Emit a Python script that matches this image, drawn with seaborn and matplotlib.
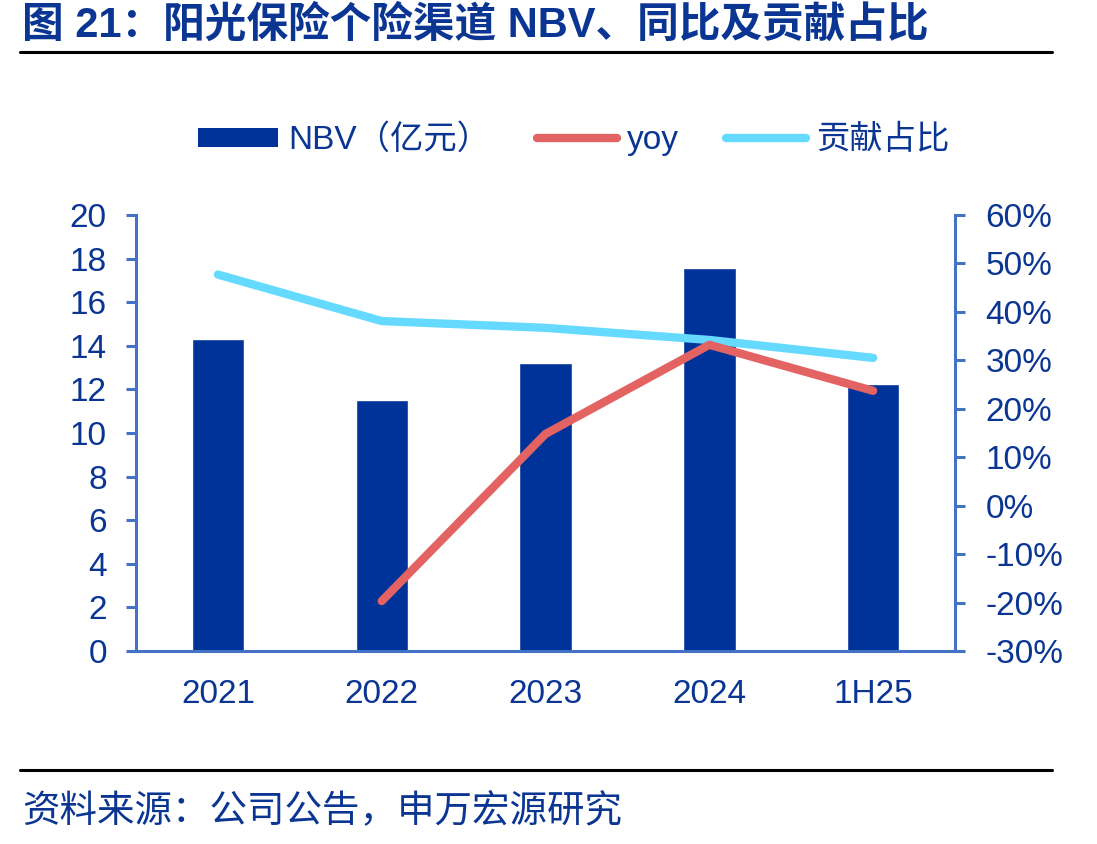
import numpy as np
import pandas as pd
import matplotlib
matplotlib.use("Agg")
import matplotlib.pyplot as plt
import seaborn as sns
from matplotlib.lines import Line2D
from matplotlib.patches import Patch
from matplotlib.ticker import FixedLocator, FuncFormatter

# ── Data ─────────────────────────────────────────────────────────────────────
periods = ["2021", "2022", "2023", "2024", "1H25"]
nbv     = [14.3, 11.5, 13.2, 17.55, 12.25]          # 亿元
yoy     = [np.nan, -19.7, 14.8, 33.2, 23.7]         # %
share   = [47.7, 38.1, 36.7, 34.2, 30.5]            # %

df = pd.DataFrame({"period": periods, "nbv": nbv, "yoy": yoy, "share": share})

# ── Style ────────────────────────────────────────────────────────────────────
sns.set_style("white")
plt.rcParams["font.family"] = ["Liberation Sans", "Noto Sans CJK SC", "DejaVu Sans"]

NAVY  = "#003399"
TEXT  = "#0A3592"
AXIS  = "#4472C4"
RED   = "#E36262"
CYAN  = "#66D9FF"
FS    = 24

fig = plt.figure(figsize=(10.97, 8.44), dpi=100)
ax = fig.add_axes([0.124, 0.2287, 0.7466, 0.5166])

sns.barplot(data=df, x="period", y="nbv", color=NAVY, width=0.32,
            saturation=1, ax=ax)
ax.set_xlim(-0.5, 4.5)
ax.set_ylim(0, 20)
ax.set_yticks(np.arange(0, 21, 2))
ax.set_xlabel("")
ax.set_ylabel("")

ax2 = ax.twinx()
x = np.arange(len(periods))
ax2.plot(x, df["share"], color=CYAN, lw=6, solid_capstyle="round",
         solid_joinstyle="round")
ax2.plot(x, df["yoy"], color=RED, lw=6, solid_capstyle="round",
         solid_joinstyle="round")
ax2.set_ylim(-30, 60)
ax2.set_yticks(np.arange(-30, 61, 10))
ax2.yaxis.set_major_formatter(FuncFormatter(lambda v, p: f"{v:.0f}%"))

for a in (ax, ax2):
    for s in a.spines.values():
        s.set_visible(False)
ax.spines["left"].set_visible(True)
ax.spines["bottom"].set_visible(True)
ax2.spines["right"].set_visible(True)
for s in (ax.spines["left"], ax.spines["bottom"], ax2.spines["right"]):
    s.set_color(AXIS)
    s.set_linewidth(2.2)

ax.tick_params(axis="y", colors=AXIS, labelcolor=TEXT, labelsize=FS,
               length=7, width=2.2, direction="out", pad=14)
ax2.tick_params(axis="y", colors=AXIS, labelcolor=TEXT, labelsize=FS,
                length=7, width=2.2, direction="out", pad=15)
ax.tick_params(axis="x", which="major", length=0, labelcolor=TEXT,
               labelsize=FS, pad=20)
ax.xaxis.set_minor_locator(FixedLocator(np.arange(-0.5, 4.6, 1)))
ax.tick_params(axis="x", which="minor", length=7, width=2.2, colors=AXIS,
               direction="out")

# ── Legend ───────────────────────────────────────────────────────────────────
handles = [
    Patch(facecolor=NAVY, edgecolor="none"),
    Line2D([0], [0], color=RED, lw=6, solid_capstyle="round"),
    Line2D([0], [0], color=CYAN, lw=6, solid_capstyle="round"),
]
fig.legend(handles, ["NBV（亿元）", "yoy", "贡献占比"], loc="center",
           bbox_to_anchor=(0.523, 1 - 140 / 844), ncol=3, frameon=False,
           fontsize=FS, labelcolor=TEXT, handlelength=2.4, handleheight=0.5,
           handletextpad=0.3, columnspacing=1.4)

# ── Title / source ───────────────────────────────────────────────────────────
fig.text(0.02, 1 - 25 / 844, "图 21：阳光保险个险渠道 NBV、同比及贡献占比",
         fontsize=30, fontweight="bold", color=TEXT, va="center", ha="left",
         family=["Liberation Sans", "Noto Sans CJK SC"])
fig.add_artist(Line2D([0.018, 0.959], [1 - 52 / 844] * 2, color="black", lw=2.2))
fig.add_artist(Line2D([0.018, 0.959], [1 - 770 / 844] * 2, color="black", lw=2.2))
fig.text(0.02, 1 - 812 / 844, "资料来源：公司公告，申万宏源研究",
         fontsize=27, color=TEXT, va="center", ha="left",
         family=["Noto Sans CJK SC", "DejaVu Sans"])

fig.savefig("out.png", dpi=100)
plt.close(fig)
